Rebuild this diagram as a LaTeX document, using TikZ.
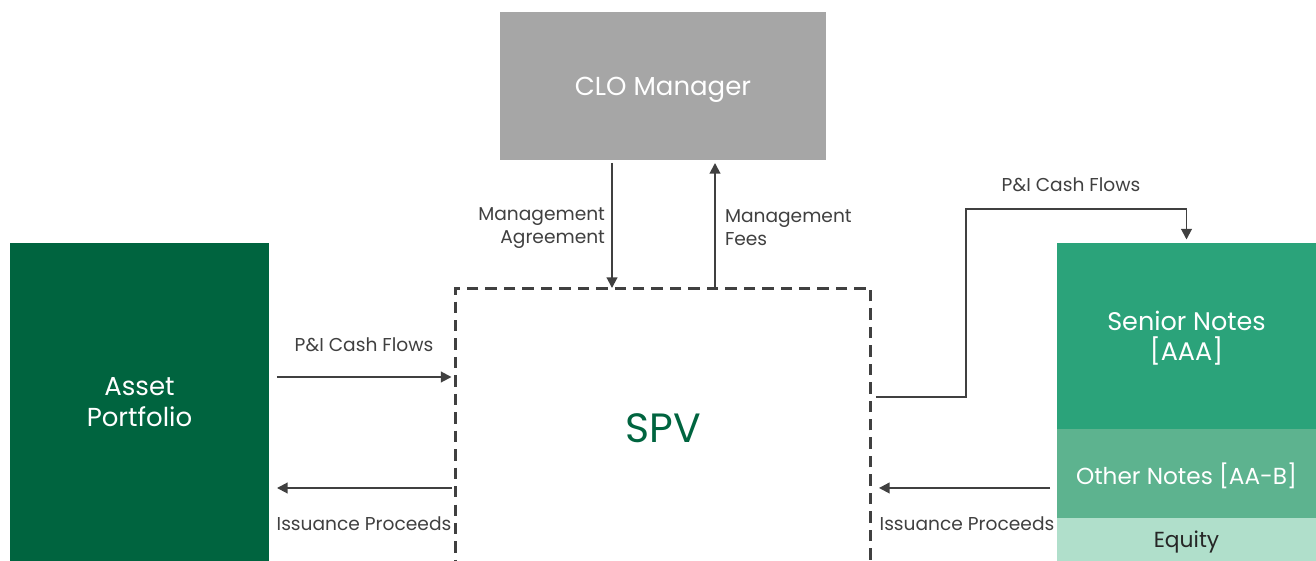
\documentclass[tikz,border=0pt]{standalone}
\usepackage{fontspec}
\setmainfont{Poppins}
\usetikzlibrary{arrows.meta,calc,positioning}
\definecolor{cloGray}{HTML}{A6A6A6}
\definecolor{assetGreen}{HTML}{00643F}
\definecolor{seniorGreen}{HTML}{2BA37A}
\definecolor{otherGreen}{HTML}{5DB38F}
\definecolor{equityGreen}{HTML}{B0DFCB}
\definecolor{lineGray}{HTML}{404040}

\begin{document}
\begin{tikzpicture}[x=0.02cm,y=-0.02cm,
    every node/.style={inner sep=0pt,outer sep=0pt},
    box/.style={rectangle,text=white,align=center,text depth=0pt,
      font=\fontsize{14.8}{17.5}\selectfont},
    flow/.style={draw=lineGray,line width=1.1pt,
      -{Triangle[length=6pt,width=6pt]}},
    lbl/.style={text=lineGray,font=\fontsize{10.6}{13}\selectfont}]
    \clip (0,0) rectangle (1316,561);

    % boxes
    \node[box,fill=cloGray,minimum width=6.52cm,minimum height=2.96cm] (clo) at (663,86) {CLO Manager};
    \node[box,fill=assetGreen,minimum width=5.18cm,minimum height=6.36cm] (asset) at (139.5,402) {Asset\\Portfolio};
    \node[draw=lineGray,line width=1.7pt,dash pattern=on 6.5pt off 4pt,
      minimum width=8.32cm,minimum height=5.6cm,text=assetGreen,
      font=\fontsize{23.3}{27}\selectfont] (spv) at (663,428) {SPV};
    \node[box,fill=seniorGreen,minimum width=5.18cm,minimum height=3.72cm,
      font=\fontsize{14.5}{17.2}\selectfont] (senior) at (1186.5,336) {Senior Notes\\{[}AAA{]}};
    \node[box,fill=otherGreen,minimum width=5.18cm,minimum height=1.78cm,
      font=\fontsize{13.2}{16}\selectfont,below=0pt of senior] (other) {Other Notes [AA-B]};
    \node[box,fill=equityGreen,text=black!85,minimum width=5.18cm,minimum height=0.86cm,
      font=\fontsize{12.4}{14}\selectfont,below=0pt of other] (equity) {Equity};

    % manager flows
    \draw[flow] ($(clo.south)+(-51,3)$) coordinate (ma) -- (ma |- spv.north);
    \draw[flow] ($(spv.north)+(52,0)$) coordinate (mf) -- ($(mf |- clo.south)+(0,3)$);
    \node[lbl,align=right,anchor=east] (lma) at (605,228) {Management\\Agreement};
    \node[lbl,align=left,anchor=west] (lmf) at (725,228) {Management\\Fees};

    % asset side
    \draw[flow,shorten >=2pt] ($(asset.east)+(8,-25)$) coordinate (pi1) -- (pi1 -| spv.west);
    \draw[flow] ($(spv.west)+(-3,60)$) coordinate (ip1) -- ($(ip1 -| asset.east)+(8,0)$);
    \node[lbl] (lpi1) at (364,345) {P\&I Cash Flows};
    \node[lbl] (lip1) at (364,524) {Issuance Proceeds};

    % notes side
    \draw[flow,shorten >=2pt] ($(spv.east)+(5,-31)$) -- ++(90,0) |- ($(senior.north)+(0,-34)$) -- (senior.north);
    \draw[flow] ($(other.west)+(-7,14.5)$) coordinate (ip2) -- ($(ip2 -| spv.east)+(8,0)$);
    \node[lbl] (lpi2) at (1071,185) {P\&I Cash Flows};
    \node[lbl] (lip2) at (967,524) {Issuance Proceeds};
\end{tikzpicture}
\end{document}
